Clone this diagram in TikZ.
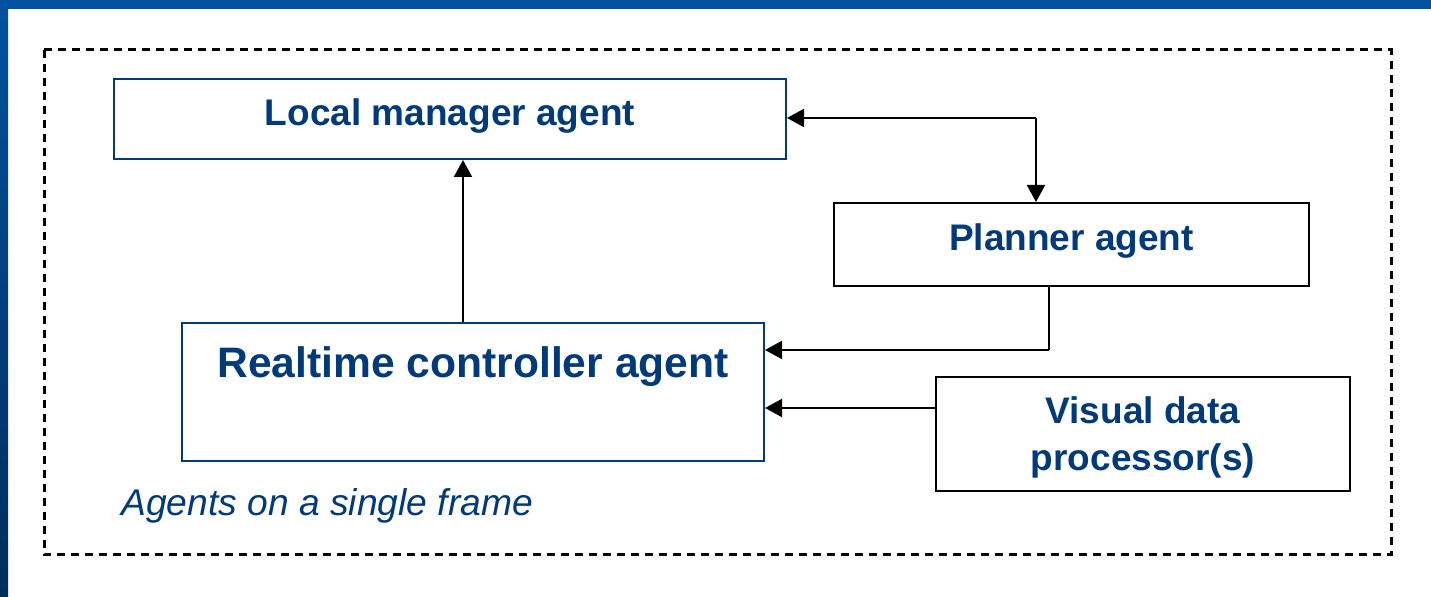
\documentclass[tikz,border=0pt]{standalone}
\usepackage{fontspec}
\setmainfont{Liberation Sans}
\usepackage{tikz}
\usetikzlibrary{positioning,arrows.meta,calc}
\usepackage{xcolor}
\definecolor{SlideBlue}{RGB}{0,82,160}
\definecolor{SlideDeep}{RGB}{0,45,92}
\definecolor{AgentBlue}{RGB}{0,58,122}

\begin{document}
\begin{tikzpicture}[
  x=0.5pt, y=-0.5pt,
  every node/.style={text=AgentBlue},
  agentbox/.style={draw=AgentBlue, fill=white, line width=1pt, align=center, inner sep=0pt, font=\bfseries\fontsize{18.5pt}{23.5pt}\selectfont},
  plainbox/.style={agentbox, draw=black},
  arrow/.style={-{Triangle[length=8.5pt,width=9pt]}, line width=1pt, black},
  link/.style={line width=1pt, black}
]
% slide background
\useasboundingbox (0,0) rectangle (1431,597);
\fill[white] (0,0) rectangle (1431,597);
\shade[top color=SlideBlue, bottom color=SlideDeep] (0,0) rectangle (8,597);
\fill[SlideBlue] (0,0) rectangle (1431,9);

% frame
\draw[black, line width=1.5pt, dash pattern=on 4pt off 3pt] (44,50) rectangle (1391,555);

\node[agentbox, minimum width=336pt, minimum height=40pt, text depth=6.5pt] (lm) at (450,119) {Local manager agent};
\node[plainbox, minimum width=237.5pt, minimum height=41.5pt, text depth=7pt] (pl) at (1071.5,244.5) {Planner agent};
\node[agentbox, minimum width=291pt, minimum height=69pt, text depth=30pt, font=\bfseries\fontsize{21.3pt}{26pt}\selectfont] (rc) at (473,392) {Realtime controller agent};
\node[plainbox, minimum width=207pt, minimum height=57pt, text depth=0.4pt] (vd) at (1143,434) {Visual data\\processor(s)};
\node[anchor=west, inner sep=0pt, font=\itshape\fontsize{18.6pt}{22pt}\selectfont] (cap) at (121,506) {Agents on a single frame};

\coordinate (jn) at (1036,118);
\coordinate (pd) at (1049,350);

\draw[arrow] (jn) -- (jn -| lm.east);
\draw[arrow] (jn) -- (jn |- pl.north);
\draw[link] (pd |- pl.south) -- (pd);
\draw[arrow] (pd) -- (pd -| rc.east);
\draw[arrow] ([yshift=13pt]vd.west) -- ([yshift=13pt]vd.west -| rc.east);
\draw[arrow] ([xshift=-5pt]rc.north) -- ([xshift=-5pt]rc.north |- lm.south);
\end{tikzpicture}
\end{document}
